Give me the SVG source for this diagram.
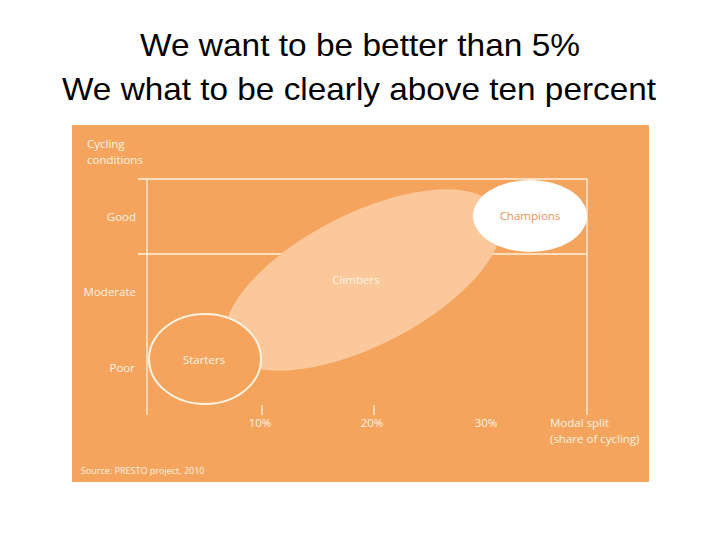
<svg xmlns="http://www.w3.org/2000/svg" width="720" height="540" viewBox="0 0 720 540">
<style>
.title{font-family:"Liberation Sans",Arial,sans-serif;font-size:32px;fill:#000;text-anchor:middle}
.lbl{font-family:"Open Sans","Liberation Sans",sans-serif;font-size:11.5px;fill:#FFF3E2}
.end{text-anchor:end}
.mid{text-anchor:middle}
.ax{stroke:#FFF3E2;stroke-width:1.3;fill:none}
</style>
<rect width="720" height="540" fill="#fff"/>
<text class="title" x="360" y="56" textLength="440" lengthAdjust="spacingAndGlyphs">We want to be better than 5%</text>
<text class="title" x="359" y="100" textLength="594" lengthAdjust="spacingAndGlyphs">We what to be clearly above ten percent</text>
<rect x="72" y="125" width="577" height="357" fill="#F5A45E"/>
<g id="axes">
<line class="ax" x1="147" y1="179" x2="147" y2="415"/>
<line class="ax" x1="138" y1="179" x2="587" y2="179"/>
<line class="ax" x1="138" y1="254" x2="587" y2="254"/>
<line class="ax" x1="587" y1="179" x2="587" y2="415"/>
<line class="ax" x1="262" y1="405" x2="262" y2="415"/>
<line class="ax" x1="374" y1="405" x2="374" y2="415"/>
</g>
<g id="climbers">
<ellipse cx="363" cy="280" rx="152" ry="66" transform="rotate(-27 363 280)" fill="#FBC89B"/>
<text class="lbl mid" x="356" y="284">Climbers</text>
</g>
<g id="champions">
<ellipse cx="530" cy="216" rx="57" ry="36" fill="#fff"/>
<text class="lbl mid" x="530" y="220" style="fill:#E8935A">Champions</text>
</g>
<g id="starters">
<ellipse cx="205" cy="359" rx="56" ry="45" fill="#F5A45E" stroke="#FFF3E2" stroke-width="2"/>
<text class="lbl mid" x="204" y="364">Starters</text>
</g>
<g id="labels">
<text class="lbl" x="87" y="148">Cycling</text>
<text class="lbl" x="87" y="164">conditions</text>
<text class="lbl end" x="136" y="221">Good</text>
<text class="lbl end" x="136" y="296">Moderate</text>
<text class="lbl end" x="135" y="372">Poor</text>
<text class="lbl mid" x="260" y="427">10%</text>
<text class="lbl mid" x="372" y="427">20%</text>
<text class="lbl mid" x="486" y="427">30%</text>
<text class="lbl" x="550" y="427">Modal split</text>
<text class="lbl" x="550" y="443">(share of cycling)</text>
<text class="lbl" x="81" y="474" style="font-size:9px">Source: PRESTO project, 2010</text>
</g>
</svg>
